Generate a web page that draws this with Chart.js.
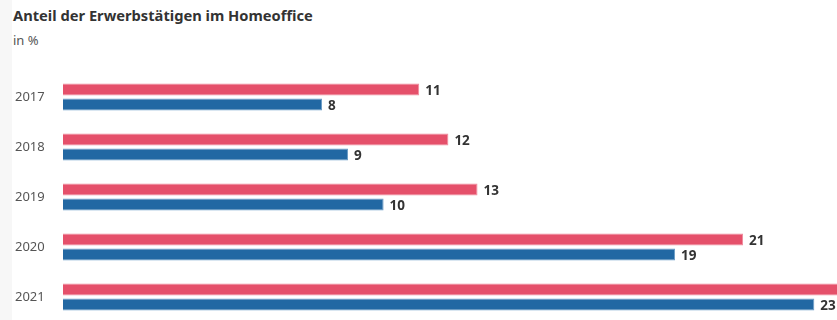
<!DOCTYPE html>
<html>
<head>
<meta charset="utf-8">
<script src="https://cdn.jsdelivr.net/npm/chart.js@4/dist/chart.umd.min.js"></script>
<style>
  html, body { margin: 0; padding: 0; width: 837px; height: 320px; overflow: hidden;
    background: linear-gradient(to right, #f7f7f7 12px, #fff 12px); font-family: "Noto Sans", sans-serif; }
  #title { position: absolute; left: 13px; top: 5px; font-size: 14.7px; font-weight: bold; color: #333; }
  #sub { position: absolute; left: 13px; top: 31px; font-size: 13px; color: #555; }
  #wrap { position: absolute; left: 0; top: 0; width: 837px; height: 330px; }
</style>
</head>
<body>
<div id="title">Anteil der Erwerbstätigen im Homeoffice</div>
<div id="sub">in %</div>
<div id="wrap"><canvas id="chart" width="837" height="330"></canvas></div>
<script>
const years = ['2017', '2018', '2019', '2020', '2021'];
const redValues = [11.0, 11.9, 12.8, 21.0, 24.8];
const blueValues = [8.0, 8.8, 9.9, 18.9, 23.2];
const redLabels = ['11', '12', '13', '21', '25'];
const blueLabels = ['8', '9', '10', '19', '23'];

// labels next to the bar ends
const valueLabels = {
    id: 'valueLabels',
    afterDatasetsDraw(chart) {
        const ctx = chart.ctx;
        const texts = [redLabels, blueLabels];
        ctx.save();
        ctx.font = 'bold 13.5px "Noto Sans"';
        ctx.fillStyle = '#333';
        ctx.textAlign = 'left';
        ctx.textBaseline = 'middle';
        chart.data.datasets.forEach(function (ds, i) {
            chart.getDatasetMeta(i).data.forEach(function (bar, j) {
                ctx.fillText(texts[i][j], bar.x + 6, bar.y + 2);
            });
        });
        ctx.restore();
    }
};

new Chart(document.getElementById('chart'), {
    type: 'bar',
    data: {
        labels: years,
        datasets: [{
            data: redValues,
            backgroundColor: '#e5506a',
            borderColor: '#f08a9c',
            borderWidth: 1,
            categoryPercentage: 0.6,
            barPercentage: 0.8
        }, {
            data: blueValues,
            backgroundColor: '#2268a3',
            borderColor: '#6a9cc6',
            borderWidth: 1,
            categoryPercentage: 0.6,
            barPercentage: 0.8
        }]
    },
    options: {
        indexAxis: 'y',
        responsive: false,
        animation: false,
        devicePixelRatio: 1,
        layout: { padding: { left: 15, top: 72, bottom: 8, right: 0 } },
        plugins: { legend: { display: false }, tooltip: { enabled: false } },
        scales: {
            x: { display: false, min: 0, max: 23.9 },
            y: {
                grid: { display: false },
                border: { display: false },
                ticks: { color: '#555', font: { family: 'Noto Sans', size: 13 }, crossAlign: 'far', padding: 0 },
                afterFit: function (scale) { scale.width = 48; }
            }
        }
    },
    plugins: [valueLabels]
});
</script>
</body>
</html>
